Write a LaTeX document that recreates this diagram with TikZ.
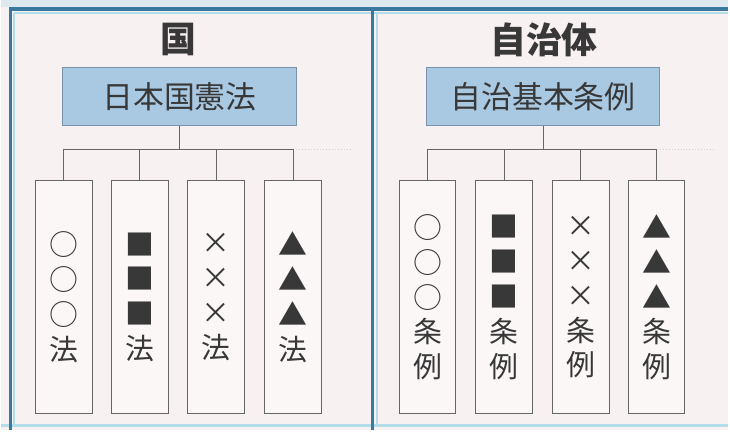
\documentclass[tikz,border=0pt]{standalone}
\usepackage{fontspec}
\setmainfont{Noto Sans CJK JP}
\definecolor{bg}{HTML}{F8F1F2}
\definecolor{ink}{HTML}{383838}
\definecolor{linegray}{HTML}{666666}
\definecolor{bluefill}{HTML}{A9C9E3}
\definecolor{boxedge}{HTML}{7B93A8}
\definecolor{frameblue}{HTML}{3A789F}
\definecolor{framelight}{HTML}{B4DDEB}
\definecolor{ghost}{HTML}{D6D0D2}
\begin{document}
\begin{tikzpicture}[x=1pt,y=-1pt,
  every node/.style={text=ink},
  colbox/.style={draw=linegray, line width=1pt, fill=white!40!bg,
    minimum width=57pt, minimum height=234pt, inner sep=0pt, align=center,
    font=\fontsize{29}{35}\selectfont},
  headbox/.style={draw=boxedge, line width=1pt, fill=bluefill,
    minimum width=234pt, minimum height=58pt, inner sep=0pt,
    font=\fontsize{31}{31}\selectfont},
  titletext/.style={font=\fontsize{36}{36}\selectfont\bfseries},
  conn/.style={draw=linegray, line width=1pt},
  ghostline/.style={draw=ghost, line width=1pt, dotted}]

% background and frame
\fill[bg] (0,0) rectangle (730,432);
\fill[framelight!40!bg] (0,0) rectangle (730,7);
\draw[framelight, line width=2.5pt] (13,13) -- (730,13);
\draw[framelight, line width=2.5pt] (0,427) -- (730,427);
\draw[frameblue, line width=3.4pt] (9,432) -- (9,9) -- (730,9);
\draw[frameblue, line width=3.4pt] (373,9) -- (373,432);
\draw[framelight, line width=2pt] (13,13) -- (13,427);
\draw[framelight, line width=2pt] (377,13) -- (377,427);

\coordinate (ylevel) at (0,150);

% ---------- left panel ----------
\node[titletext] (t1) at (178,40) {国};
\node[headbox] (h1) at (179,97) {日本国憲法};
\node[colbox, anchor=north] (a1) at (63,181) {○\\○\\○\\法};
\node[colbox, anchor=north] (a2) at (139,181) {■\\■\\■\\法};
\node[colbox, anchor=north] (a3) at (216,181) {×\\×\\×\\法};
\node[colbox, anchor=north] (a4) at (293,181) {▲\\▲\\▲\\法};
\coordinate (ga) at (352,150);
\draw[conn] (h1.south) -- (h1.south |- ylevel);
\draw[conn] (a1.north |- ylevel) -- (a4.north |- ylevel);
\draw[ghostline] (a4.north |- ylevel) -- (ga);
\foreach \n in {a1,a2,a3,a4} \draw[conn] (\n.north |- ylevel) -- (\n.north);

% ---------- right panel ----------
\node[titletext] (t2) at (545,40) {自治体};
\node[headbox] (h2) at (544,97) {自治基本条例};
\node[colbox, anchor=north] (b1) at (428,181) {○\\○\\○\\条\\例};
\node[colbox, anchor=north] (b2) at (505,181) {■\\■\\■\\条\\例};
\node[colbox, anchor=north] (b3) at (582,181) {×\\×\\×\\条\\例};
\node[colbox, anchor=north] (b4) at (658,181) {▲\\▲\\▲\\条\\例};
\coordinate (gb) at (717,150);
\draw[conn] (h2.south) -- (h2.south |- ylevel);
\draw[conn] (b1.north |- ylevel) -- (b4.north |- ylevel);
\draw[ghostline] (b4.north |- ylevel) -- (gb);
\foreach \n in {b1,b2,b3,b4} \draw[conn] (\n.north |- ylevel) -- (\n.north);
\end{tikzpicture}
\end{document}
